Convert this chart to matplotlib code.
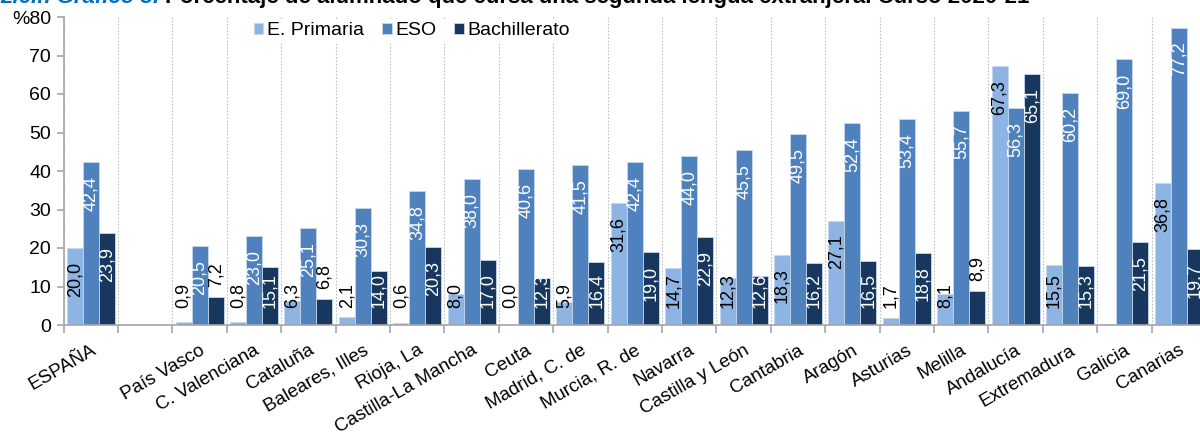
import numpy as np
import matplotlib
matplotlib.use('Agg')
import matplotlib.pyplot as plt

plt.rcParams['font.family'] = ['Liberation Sans', 'DejaVu Sans']

# datos (porcentaje de alumnado, curso 2020-21)
regiones = ['ESPAÑA', '', 'País Vasco', 'C. Valenciana', 'Cataluña', 'Baleares, Illes',
            'Rioja, La', 'Castilla-La Mancha', 'Ceuta', 'Madrid, C. de', 'Murcia, R. de',
            'Navarra', 'Castilla y León', 'Cantabria', 'Aragón', 'Asturias', 'Melilla',
            'Andalucía', 'Extremadura', 'Galicia', 'Canarias']
primaria = [20.0, None, 0.9, 0.8, 6.3, 2.1, 0.6, 8.0, 0.0, 5.9, 31.6,
            14.7, 12.3, 18.3, 27.1, 1.7, 8.1, 67.3, 15.5, None, 36.8]
eso = [42.4, None, 20.5, 23.0, 25.1, 30.3, 34.8, 38.0, 40.6, 41.5, 42.4,
       44.0, 45.5, 49.5, 52.4, 53.4, 55.7, 56.3, 60.2, 69.0, 77.2]
bachillerato = [23.9, None, 7.2, 15.1, 6.8, 14.0, 20.3, 17.0, 12.3, 16.4, 19.0,
                22.9, 12.6, 16.2, 16.5, 18.8, 8.9, 65.1, 15.3, 21.5, 19.7]

series = [('E. Primaria', primaria, '#8DB4E2', 'black', 'black'),
          ('ESO', eso, '#4F81BD', 'white', 'black'),
          ('Bachillerato', bachillerato, '#17375E', 'white', 'black')]

W, H = 1200, 433
fig = plt.figure(figsize=(W / 100, H / 100), dpi=100)
ax = fig.add_axes([63.6 / W, 108 / H, 1142.4 / W, 308 / H])
ax.set_xlim(-0.5, len(regiones) - 0.5)
ax.set_ylim(0, 80)
px_unit = 308 / 80

x = np.arange(len(regiones))
w = 0.295
renderer = fig.canvas.get_renderer()

for i, (name, vals, col, txt_in, txt_out) in enumerate(series):
    v = np.array([np.nan if a is None else a for a in vals], dtype=float)
    xs = x + (i - 1) * w
    ax.bar(xs, v, w, color=col, edgecolor='#c6d7ee', linewidth=0.6, label=name, zorder=2)
    for xi, val in zip(xs, v):
        if np.isnan(val):
            continue
        t = ax.text(xi, 0, f'{val:.1f}'.replace('.', ','), rotation=90, ha='center',
                    va='bottom', fontsize=13, color=txt_in, zorder=3)
        L = t.get_window_extent(renderer).height
        h = val * px_unit
        top = h - 14
        bottom = top - L
        if bottom < 17:
            bottom = 17
        # etiquetas de bachillerato que no caben: encima de la barra
        if i == 2 and val < 10:
            bottom = h + 10
            t.set_color(txt_out)
        t.set_y(bottom / px_unit)

# ejes
for s in ['top', 'right']:
    ax.spines[s].set_visible(False)
for s in ['left', 'bottom']:
    ax.spines[s].set_color('#a6a6a6')
    ax.spines[s].set_linewidth(1.2)

ax.set_yticks(range(0, 81, 10))
ax.set_yticklabels([str(k) for k in range(0, 80, 10)] + ['%80'], fontsize=14)
ax.tick_params(axis='y', length=5, color='#a6a6a6', width=1.2, pad=4)

ax.set_xticks(x)
ax.set_xticklabels(regiones, rotation=30, ha='right', rotation_mode='anchor', fontsize=13.5)
ax.tick_params(axis='x', which='major', length=0, pad=12)
ax.set_xticks(np.arange(-0.5, len(regiones), 1), minor=True)
ax.tick_params(axis='x', which='minor', length=6, color='#a6a6a6', width=1.2)
ax.grid(axis='x', which='minor', color='#bfbfbf', linestyle=(0, (1.5, 1.5)), linewidth=0.8, zorder=0)

leg = ax.legend(loc='upper left', bbox_to_anchor=(0.163, 0.995), ncol=3, fontsize=14,
                frameon=True, fancybox=False, edgecolor='none', facecolor='white', framealpha=1,
                handlelength=0.5, handleheight=0.5, handletextpad=0.2, columnspacing=0.9,
                borderpad=0.2, borderaxespad=0)
leg.set_zorder(5)

# título (cortado en la parte superior, como en la imagen original)
t1 = fig.text(0, 1 - 3 / H, '2.6.f. Gráfico 3. ', fontsize=16, fontweight='bold',
              fontstyle='italic', color='#0070C0', va='baseline', ha='left')
bb = t1.get_window_extent(renderer)
fig.text(bb.x1 / W, 1 - 3 / H,
         'Porcentaje de alumnado que cursa una segunda lengua extranjera. Curso 2020-21',
         fontsize=16, fontweight='bold', color='black', va='baseline', ha='left')

fig.savefig('out.png', dpi=100)
